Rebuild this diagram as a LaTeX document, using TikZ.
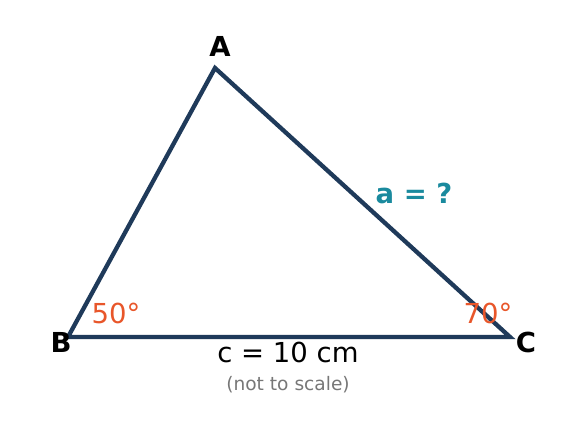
\documentclass[tikz,border=0pt]{standalone}
\usepackage{fontspec}
\setmainfont{DejaVu Sans}
\usetikzlibrary{positioning}
\definecolor{sidecol}{HTML}{1F3A5A}
\definecolor{anglecol}{HTML}{E8562A}
\definecolor{askcol}{HTML}{1A8A9E}
\definecolor{notecol}{HTML}{777777}
\tikzstyle{side} = [line width=4.3pt,draw=sidecol]

\begin{document}
\begin{tikzpicture}[x=1pt,y=-1pt,
    vlabel/.style={font=\bfseries\fontsize{27.5}{32}\selectfont,inner sep=0pt},
    anglabel/.style={text=anglecol,font=\fontsize{27.5}{32}\selectfont,inner sep=0pt},
    sidelabel/.style={font=\fontsize{27.5}{32}\selectfont,inner sep=0pt}]
    \useasboundingbox (0,0) rectangle (576,430);
    % corners of the triangle
    \coordinate (A) at (215,68);
    \coordinate (B) at (68,337);
    \coordinate (C) at (510,337);
    \draw[side] (A) -- (B) -- (C) -- cycle;
    % corner names
    \node[vlabel] (lA) at (220,46) {A};
    \node[vlabel] (lB) at (61,342) {B};
    \node[vlabel] (lC) at (526,342) {C};
    % angles
    \node[anglabel] (angB) at (116,313) {50°};
    \node[anglabel] (angC) at (488,313) {70°};
    % sides
    \node[sidelabel,text=askcol,font=\bfseries\fontsize{27.5}{32}\selectfont] (sa) at (414,193) {a = ?};
    \node[sidelabel] (sc) at (288,352) {c = 10 cm};
    \node[text=notecol,font=\fontsize{18.6}{22}\selectfont,inner sep=0pt] (note) at (288,385) {(not to scale)};
\end{tikzpicture}
\end{document}
